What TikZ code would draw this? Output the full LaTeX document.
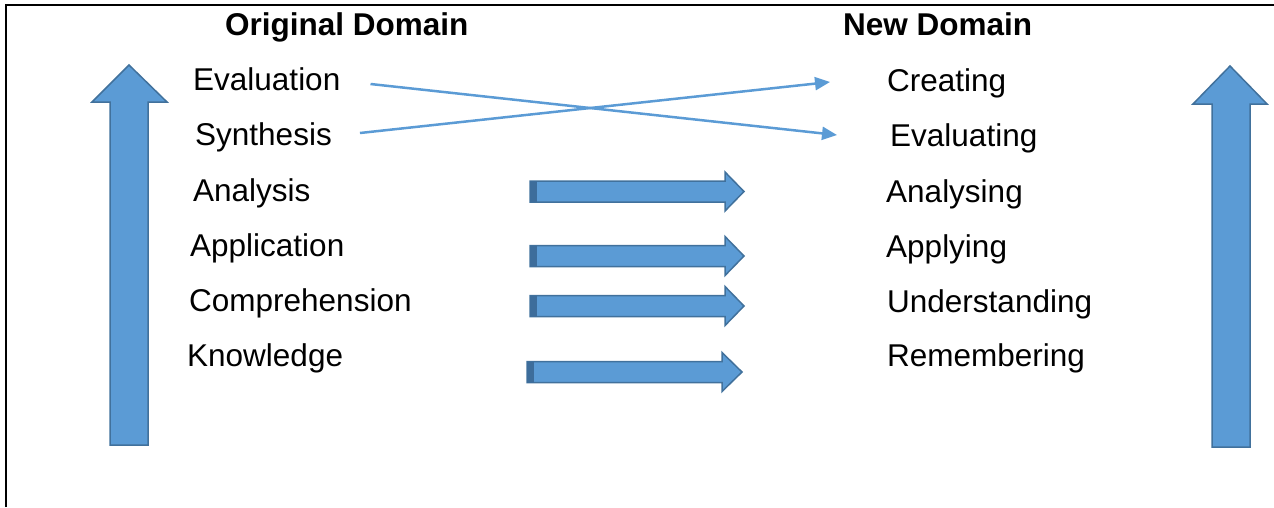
\documentclass[tikz,border=0pt]{standalone}
\usepackage{fontspec}
\setmainfont{Liberation Sans}
\usetikzlibrary{arrows.meta}
\definecolor{blockfill}{HTML}{5B9BD5}
\definecolor{blockline}{HTML}{41719C}
\definecolor{blockend}{HTML}{3D6D9B}
\begin{document}
\begin{tikzpicture}[x=1pt,y=-1pt,
  lbl/.style={anchor=base west,inner sep=0pt,font=\fontsize{31.5}{36}\selectfont},
  hd/.style={anchor=base west,inner sep=0pt,font=\fontsize{31.5}{36}\selectfont\bfseries},
  block/.style={fill=blockfill,draw=blockline,line width=1.5pt,line join=miter},
  link/.style={draw=blockfill,line width=2.5pt,-{Triangle[length=15pt,width=13pt]}}]
\useasboundingbox (0,0) rectangle (1274,507);
% frame
\draw[line width=2pt] (6,507) -- (6,5) -- (1274,5);

% headings
\node[hd] (orig) at (225,35) {Original Domain};
\node[hd] (new) at (843,35) {New Domain};

% original levels
\node[lbl] (ev)  at (193,90)  {Evaluation};
\node[lbl] (syn) at (195,145) {Synthesis};
\node[lbl] (an)  at (193,201) {Analysis};
\node[lbl] (ap)  at (190,256) {Application};
\node[lbl] (co)  at (189,311) {Comprehension};
\node[lbl] (kn)  at (187,366) {Knowledge};

% revised levels
\node[lbl] (cr)  at (887,91)  {Creating};
\node[lbl] (evg) at (890,146) {Evaluating};
\node[lbl] (ang) at (886,202) {Analysing};
\node[lbl] (apg) at (886,257) {Applying};
\node[lbl] (un)  at (887,312) {Understanding};
\node[lbl] (re)  at (887,366) {Remembering};

% vertical block arrows
\draw[block] (110,445) -- (110,102) -- (92,102) -- (129,65) -- (167,102)
  -- (148,102) -- (148,445) -- cycle;
\draw[block] (1212,447) -- (1212,104) -- (1193,104) -- (1230,66) -- (1267,104)
  -- (1250,104) -- (1250,447) -- cycle;

% horizontal block arrows
\foreach \xa/\yc/\xh/\xt in {530/191.5/725/744, 530/256/725/744,
                             530/306/725/744, 527/372/722/742}{
  \draw[block] (\xa,\yc-10.5) -- (\xh,\yc-10.5) -- (\xh,\yc-19.5) -- (\xt,\yc)
    -- (\xh,\yc+19.5) -- (\xh,\yc+10.5) -- (\xa,\yc+10.5) -- cycle;
  \fill[blockend] (\xa,\yc-10.5) rectangle (\xa+7,\yc+10.5);
}

% crossing links
\draw[link] ([shift={(30,-6)}]ev.base east) -- ([shift={(-53,-11)}]evg.base west);
\draw[link] ([shift={(28,-12)}]syn.base east) -- ([shift={(-57,-9)}]cr.base west);
\end{tikzpicture}
\end{document}
